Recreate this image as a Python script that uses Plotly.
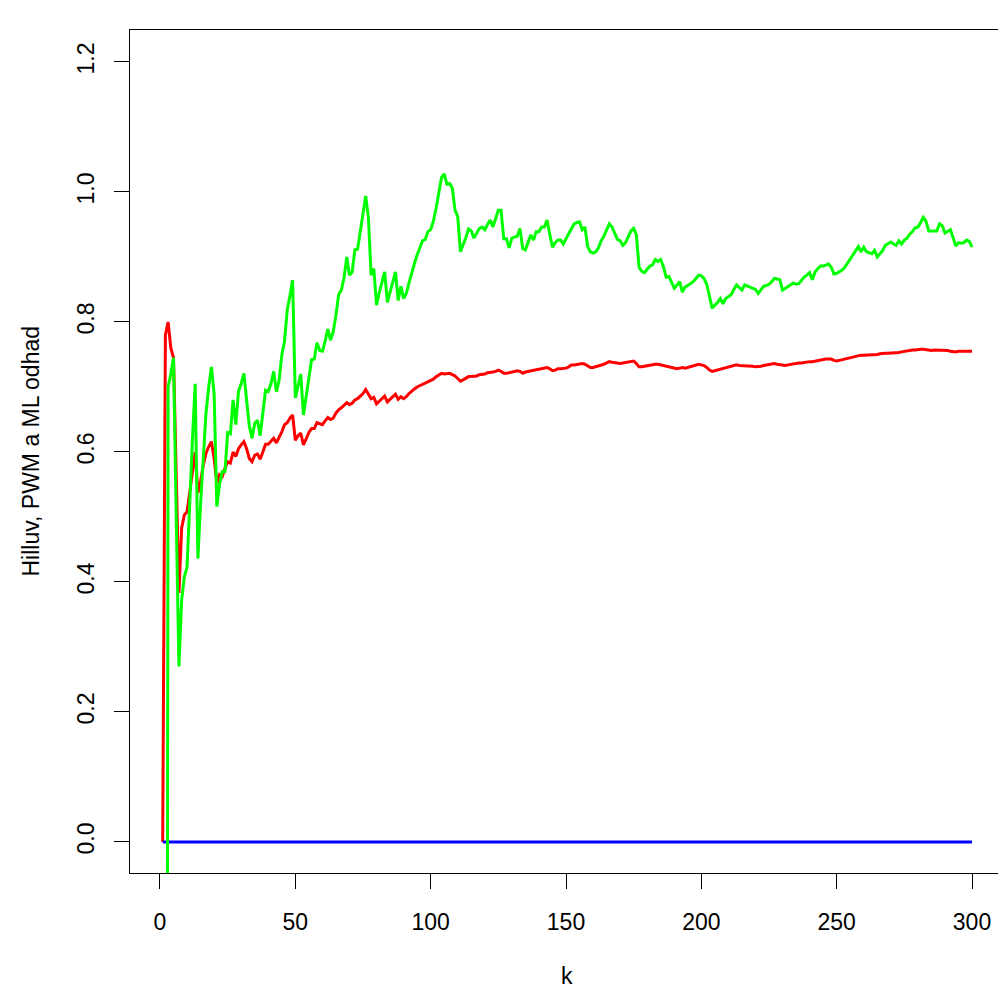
import plotly.graph_objects as go

# Hill estimator (red), k = 1..300
red_start_k = 1
red_vals = [
    0.0, 0.78, 0.80, 0.76, 0.745, 0.56, 0.383, 0.483, 0.503, 0.508,
    0.54, 0.57, 0.60, 0.537, 0.555, 0.58, 0.598, 0.608, 0.616, 0.59,
    0.552, 0.565, 0.562, 0.575, 0.585, 0.583, 0.60, 0.593, 0.605, 0.611,
    0.616, 0.605, 0.59, 0.585, 0.595, 0.597, 0.589, 0.60, 0.612, 0.612,
    0.616, 0.621, 0.614, 0.622, 0.631, 0.642, 0.645, 0.652, 0.657, 0.618,
    0.625, 0.629, 0.611, 0.62, 0.63, 0.636, 0.636, 0.645, 0.643, 0.642,
    0.648, 0.653, 0.65, 0.652, 0.66, 0.665, 0.668, 0.672, 0.676, 0.673,
    0.675, 0.68, 0.682, 0.686, 0.69, 0.696, 0.69, 0.682, 0.684, 0.674,
    0.678, 0.682, 0.686, 0.677, 0.681, 0.685, 0.689, 0.681, 0.685, 0.682,
    0.685, 0.69, 0.694, 0.697, 0.70, 0.702, 0.704, 0.706, 0.707, 0.709,
    0.712, 0.716, 0.719, 0.721, 0.72, 0.72, 0.721, 0.719, 0.717, 0.713,
    0.709, 0.711, 0.714, 0.716, 0.716, 0.716, 0.717, 0.719, 0.719, 0.72,
    0.722, 0.722, 0.723, 0.724, 0.726, 0.724, 0.721, 0.721, 0.722, 0.722,
    0.724, 0.725, 0.724, 0.721, 0.723, 0.724, 0.725, 0.726, 0.727, 0.728,
    0.729, 0.73, 0.73, 0.728, 0.725, 0.726, 0.728, 0.728, 0.728, 0.729,
    0.731, 0.734, 0.734, 0.735, 0.736, 0.736, 0.735, 0.732, 0.73, 0.73,
    0.731, 0.732, 0.733, 0.735, 0.737, 0.739, 0.738, 0.737, 0.736, 0.736,
    0.737, 0.738, 0.739, 0.74, 0.74, 0.736, 0.731, 0.731, 0.732, 0.733,
    0.734, 0.735, 0.735, 0.735, 0.734, 0.733, 0.731, 0.731, 0.73, 0.728,
    0.728, 0.729, 0.73, 0.729, 0.73, 0.732, 0.733, 0.734, 0.735, 0.734,
    0.733, 0.73, 0.726, 0.724, 0.725, 0.726, 0.727, 0.728, 0.729, 0.731,
    0.732, 0.733, 0.734, 0.733, 0.733, 0.733, 0.733, 0.733, 0.732, 0.731,
    0.731, 0.732, 0.733, 0.734, 0.735, 0.736, 0.736, 0.735, 0.734, 0.733,
    0.733, 0.734, 0.735, 0.736, 0.736, 0.737, 0.737, 0.738, 0.739, 0.739,
    0.739, 0.74, 0.741, 0.742, 0.742, 0.743, 0.743, 0.743, 0.741, 0.74,
    0.741, 0.742, 0.744, 0.745, 0.746, 0.747, 0.748, 0.749, 0.749, 0.749,
    0.749, 0.749, 0.749, 0.75, 0.75, 0.751, 0.752, 0.752, 0.752, 0.752,
    0.753, 0.753, 0.753, 0.754, 0.755, 0.756, 0.757, 0.757, 0.757, 0.758,
    0.758, 0.758, 0.757, 0.756, 0.756, 0.757, 0.757, 0.757, 0.757, 0.756,
    0.756, 0.755, 0.754, 0.754, 0.755, 0.755, 0.755, 0.755, 0.755, 0.755,
]

# PWM estimator (green), k = 2..300
green_start_k = 2
green_vals = [
    -2.5, 0.70, 0.72, 0.745, 0.50, 0.27, 0.372, 0.408, 0.423,
    0.53, 0.62, 0.705, 0.436, 0.52, 0.60, 0.66, 0.70, 0.731, 0.69,
    0.516, 0.55, 0.57, 0.57, 0.63, 0.628, 0.68, 0.642, 0.693, 0.705,
    0.721, 0.68, 0.64, 0.621, 0.644, 0.649, 0.625, 0.66, 0.695, 0.693,
    0.705, 0.724, 0.693, 0.71, 0.749, 0.77, 0.818, 0.84, 0.864, 0.683,
    0.70, 0.72, 0.657, 0.685, 0.715, 0.742, 0.743, 0.768, 0.756, 0.755,
    0.77, 0.789, 0.772, 0.785, 0.81, 0.842, 0.849, 0.868, 0.90, 0.872,
    0.877, 0.911, 0.912, 0.94, 0.97, 0.994, 0.96, 0.872, 0.882, 0.826,
    0.845, 0.862, 0.877, 0.83, 0.845, 0.86, 0.877, 0.833, 0.855, 0.836,
    0.844, 0.86, 0.877, 0.89, 0.903, 0.915, 0.925, 0.927, 0.939, 0.942,
    0.955, 0.975, 0.998, 1.022, 1.028, 1.012, 1.013, 1.006, 0.972, 0.962,
    0.908, 0.918, 0.93, 0.943, 0.94, 0.929, 0.936, 0.944, 0.946, 0.942,
    0.95, 0.957, 0.946, 0.96, 0.972, 0.972, 0.928, 0.928, 0.914, 0.929,
    0.93, 0.932, 0.944, 0.913, 0.911, 0.922, 0.934, 0.926, 0.939, 0.939,
    0.946, 0.946, 0.957, 0.935, 0.915, 0.922, 0.926, 0.926, 0.92, 0.928,
    0.936, 0.944, 0.951, 0.953, 0.954, 0.942, 0.946, 0.916, 0.908, 0.906,
    0.908, 0.914, 0.925, 0.932, 0.942, 0.951, 0.946, 0.935, 0.927, 0.925,
    0.918, 0.922, 0.93, 0.94, 0.944, 0.934, 0.884, 0.878, 0.876, 0.882,
    0.886, 0.888, 0.896, 0.893, 0.896, 0.885, 0.869, 0.87, 0.86, 0.852,
    0.857, 0.862, 0.846, 0.854, 0.856, 0.859, 0.862, 0.867, 0.872, 0.871,
    0.867, 0.858, 0.838, 0.821, 0.826, 0.83, 0.836, 0.828, 0.836, 0.839,
    0.842, 0.85, 0.857, 0.853, 0.849, 0.857, 0.855, 0.853, 0.851, 0.85,
    0.844, 0.85, 0.855, 0.856, 0.858, 0.862, 0.867, 0.866, 0.865, 0.849,
    0.852, 0.855, 0.858, 0.86, 0.858, 0.859, 0.864, 0.869, 0.872, 0.876,
    0.865, 0.877, 0.882, 0.886, 0.886, 0.887, 0.889, 0.884, 0.874, 0.875,
    0.877, 0.88, 0.884, 0.89, 0.896, 0.904, 0.91, 0.916, 0.908, 0.915,
    0.908, 0.906, 0.905, 0.91, 0.90, 0.905, 0.91, 0.918, 0.92, 0.923,
    0.92, 0.918, 0.925, 0.92, 0.926, 0.929, 0.935, 0.939, 0.945, 0.946,
    0.953, 0.961, 0.955, 0.94, 0.94, 0.94, 0.94, 0.951, 0.948, 0.937,
    0.94, 0.942, 0.93, 0.917, 0.922, 0.921, 0.922, 0.926, 0.924, 0.915,
]

# ML estimator (blue)
blue_k = [1, 300]
blue_vals = [0.0, 0.0]

x_ticks = [0, 50, 100, 150, 200, 250, 300]
y_ticks = [0.0, 0.2, 0.4, 0.6, 0.8, 1.0, 1.2]
y_tick_labels = ["0.0", "0.2", "0.4", "0.6", "0.8", "1.0", "1.2"]

red_k = list(range(red_start_k, red_start_k + len(red_vals)))
green_k = list(range(green_start_k, green_start_k + len(green_vals)))

fig = go.Figure()
fig.add_trace(go.Scatter(x=red_k, y=red_vals, mode="lines",
                         line=dict(color="#FF0000", width=3)))
fig.add_trace(go.Scatter(x=blue_k, y=blue_vals, mode="lines",
                         line=dict(color="#0000FF", width=3)))
fig.add_trace(go.Scatter(x=green_k, y=green_vals, mode="lines",
                         line=dict(color="#00FF00", width=3)))

font = "Liberation Sans, Arial, Helvetica, sans-serif"
fig.update_layout(
    width=998, height=992,
    margin=dict(l=130, r=0, t=30, b=119),
    plot_bgcolor="white", paper_bgcolor="white",
    showlegend=False,
    font=dict(family=font, size=23, color="black"),
    xaxis=dict(range=[-11.08, 309.6], tickmode="array", tickvals=x_ticks,
               ticks="outside", ticklen=15, tickwidth=1, tickcolor="black",
               showline=True, linecolor="black", linewidth=1, mirror=True,
               showgrid=False, zeroline=False, ticklabelstandoff=13),
    yaxis=dict(range=[-0.0477, 1.2492], tickmode="array", tickvals=y_ticks,
               ticktext=y_tick_labels, tickangle=-90,
               ticks="outside", ticklen=15, tickwidth=1, tickcolor="black",
               showline=True, linecolor="black", linewidth=1, mirror=False,
               showgrid=False, zeroline=False, ticklabelstandoff=11),
    annotations=[
        dict(text="Hilluv, PWM a ML odhad", xref="paper", yref="paper",
             x=0, y=0.5, xshift=-100, textangle=-90, showarrow=False,
             xanchor="center", yanchor="middle", font=dict(size=23)),
        dict(text="k", xref="paper", yref="paper", x=0.5, y=0, xshift=3,
             yshift=-103, showarrow=False, xanchor="center", yanchor="middle",
             font=dict(size=23)),
    ],
)

fig.write_html("out.html", config={"displayModeBar": False},
               post_script="document.body.style.margin='0px';")
